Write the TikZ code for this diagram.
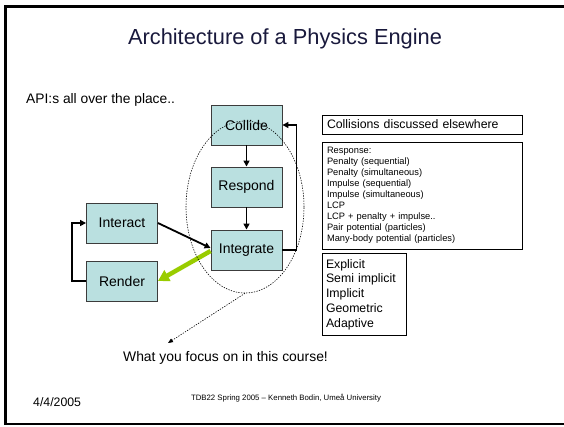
\documentclass[tikz,border=0pt]{standalone}
\usepackage{fontspec}
\setmainfont{Liberation Sans}
\usetikzlibrary{arrows.meta,shapes.geometric}
\definecolor{boxfill}{RGB}{186,224,224}
\definecolor{boxline}{RGB}{60,60,60}
\definecolor{titlecol}{RGB}{25,25,60}
\definecolor{greenarr}{RGB}{153,204,0}
\tikzset{
  engbox/.style={draw=boxline, line width=0.9pt, fill=boxfill, minimum width=71pt, minimum height=40pt, inner sep=0pt, font=\fontsize{14}{16}\selectfont},
  flow/.style={line width=1.8pt, -{Triangle[length=6pt,width=6pt]}},
  greenflow/.style={line width=4.5pt, greenarr, -{Triangle[length=11pt,width=12pt]}},
  infobox/.style={draw, line width=1pt, inner xsep=5pt, inner ysep=0pt, align=left, anchor=center},
  focusring/.style={draw, ellipse, line width=0.6pt, dash pattern=on 1.3pt off 1.3pt, inner sep=0pt},
  pointer/.style={line width=0.6pt, dash pattern=on 1.3pt off 1.3pt, -{Triangle[length=5pt,width=4pt]}},
}
\begin{document}
\begin{tikzpicture}[x=1pt,y=-1pt]
\useasboundingbox (0,0) rectangle (564,426);
% slide frame
\draw[line width=2.5pt] (570,6.5) -- (5.5,6.5) -- (5.5,424) -- (570,424);
% title
\node[text=titlecol, font=\fontsize{21.8}{26}\selectfont] (title) at (285,39) {Architecture of a Physics Engine};
\node[anchor=west, font=\fontsize{13.8}{16}\selectfont, inner sep=0pt] (api) at (26,100) {API:s all over the place..};
% engine boxes
\node[engbox] (collide) at (246.5,125) {Collide};
\node[engbox] (respond) at (246.5,187) {Respond};
\node[engbox] (integrate) at (246.5,250) {Integrate};
\node[engbox] (interact) at (122,223) {Interact};
\node[engbox] (render) at (122,281) {Render};
% connectors
\draw[flow] (collide) -- (respond);
\draw[flow] (respond) -- (integrate);
\draw[flow] (integrate.east) -| ([xshift=14pt]collide.east) -- (collide.east);
\draw[flow] (interact.east) -- ([yshift=2pt]integrate.west);
\draw[greenflow] ([yshift=-1pt]integrate.west) -- (render.east);
\draw[flow] (render.west) -- ++(-14,0) |- (interact.west);
% focus ellipse
\node[focusring, minimum width=118pt, minimum height=172pt] (focus) at (245,207) {};
\coordinate (focustip) at (168,343);
\draw[pointer] (focus.south) -- (focustip);
\node[font=\fontsize{13.9}{16}\selectfont] (focustext) at (225.5,358) {What you focus on in this course!};
% right info boxes
\node[infobox, minimum width=200pt, minimum height=19pt, text width=190pt, font=\fontsize{12.3}{14}\selectfont] (colls) at (422,124.5) {Collisions discussed elsewhere};
\node[infobox, minimum width=200pt, minimum height=107pt, text width=190pt, font=\fontsize{9.3}{11}\selectfont] (resp) at (422,195.5) {Response:\\Penalty (sequential)\\Penalty (simultaneous)\\Impulse (sequential)\\Impulse (simultaneous)\\LCP\\LCP + penalty + impulse..\\Pair potential (particles)\\Many-body potential (particles)};
\node[infobox, minimum width=84pt, minimum height=82pt, text width=76pt, inner xsep=4pt, font=\fontsize{12.3}{14.7}\selectfont] (integ) at (364,294.5) {Explicit\\Semi implicit\\Implicit\\Geometric\\Adaptive};
% footer
\node[anchor=west, inner sep=0pt, font=\fontsize{12.3}{14}\selectfont] (date) at (33,402) {4/4/2005};
\node[font=\fontsize{7.8}{9}\selectfont] (credit) at (286,398) {TDB22 Spring 2005 -- Kenneth Bodin, Umeå University};
\end{tikzpicture}
\end{document}
